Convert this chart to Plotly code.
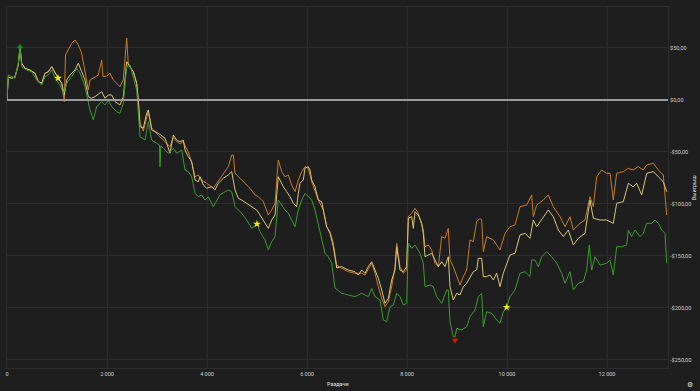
import plotly.graph_objects as go

# ---------------- data (hands, winnings in $) ----------------
hands_orange = [0, 26, 94, 160, 226, 260, 294, 360, 460, 560, 626, 694, 760, 826, 894, 960, 1026, 1094, 1146,
                1170, 1226, 1294, 1360, 1426, 1494, 1560, 1626, 1660, 1726, 1826, 1894, 1920, 1994, 2060, 2126,
                2194, 2260, 2326, 2394, 2426, 2460, 2526, 2594, 2626, 2660, 2726, 2794, 2826, 2894, 3026, 3160,
                3260, 3326, 3394, 3460, 3526, 3560, 3626, 3694,
                3760, 3826, 3894, 3994, 4126, 4194, 4326, 4426, 4494, 4526, 4560, 4626, 4726, 4860, 4960, 5026,
                5126, 5226, 5294, 5360, 5426, 5494, 5560, 5626, 5694, 5760, 5826, 5894, 5960, 6026, 6094, 6160,
                6226, 6326, 6394, 6460, 6526, 6594, 6694, 6826, 6960, 7094, 7160, 7294, 7360, 7426, 7494, 7560,
                7626, 7694, 7760, 7794, 7860, 7926, 7994, 8026, 8094, 8160, 8226, 8326, 8360, 8426, 8494, 8560,
                8626, 8694, 8760, 8826, 8860, 8926, 8994, 9060, 9126, 9194, 9260, 9326, 9394, 9460, 9494, 9526,
                9594, 9660, 9726, 9794, 9860, 9960, 10060, 10160, 10260, 10394, 10494, 10526, 10594, 10726,
                10826, 10926, 11060, 11160, 11260, 11326, 11460, 11560, 11660, 11726, 11794, 11894, 11994,
                12060, 12126, 12194, 12326, 12426, 12526, 12626, 12726, 12794, 12926, 13026, 13126, 13194]
win_orange = [0, 22.1, 20.9, 22.4, 33.7, 51.3, 35.3, 30.5, 28.8, 25.7, 17.6, 16.1, 25.7, 27.2, 32.0, 25.7, 20.9,
              16.1, -1.6,
              43.3, 48.1, 54.5, 57.7, 52.9, 44.9, 28.8, 9.6, 19.2, 21.2, 24.0, 38.5, 22.4, 23.1, 25.7, 19.2,
              15.4, 12.8, 19.2, 59.6, 33.7, 32.0, 27.2, 16.1, 0.0, -22.0, -30.0, -15.0, -11.0, -27.0, -34.0, -40.0,
              -45.0, -36.0, -40.0, -42.0, -40.0, -44.0, -50.0, -60.0,
              -73.8, -72.1, -76.9, -80.1, -84.9, -80.1, -70.5, -64.1, -52.9, -52.9, -70.5, -73.8, -78.6, -84.9,
              -91.3, -93.0, -97.8, -110.6, -105.8, -99.3, -57.7, -68.9, -73.8, -72.1, -81.7, -88.2, -76.9, -68.9,
              -64.1, -65.7, -78.6, -86.5, -96.2, -105.8, -121.8, -126.6, -137.8, -158.7, -161.9, -165.1, -166.6,
              -166.6, -168.3, -157.0, -166.6, -179.5, -190.7, -198.7, -194.0, -179.5, -160.3, -137.8, -160.3,
              -166.6, -163.5, -112.2, -108.9, -104.1, -108.9, -125.0, -141.1, -139.4, -144.2, -157.0, -160.3,
              -131.4, -133.0, -123.4, -153.8, -160.3, -169.9, -177.9, -169.9, -163.5, -134.6, -136.2, -117.0,
              -113.7, -115.4, -145.8, -131.4, -133.0, -134.6, -139.4, -144.2, -128.2, -121.8, -120.2, -102.6,
              -101.0, -91.3, -112.2, -101.0, -96.2, -91.3, -102.6, -112.2, -121.8, -112.2, -125.0, -118.6,
              -115.4, -93.0, -102.6, -73.8, -67.3, -70.5, -70.5, -96.2, -70.5, -68.9, -65.7, -67.3, -64.1,
              -67.3, -62.5, -60.9, -67.3, -72.1, -110.6]

hands_yellow = [0, 26, 94, 160, 226, 260, 294, 360, 460, 560, 626, 694, 760, 826, 894, 960, 1026, 1094, 1146,
                1194, 1260, 1360, 1426, 1494, 1560, 1626, 1694, 1760, 1894, 1960, 2026, 2094, 2160, 2260, 2326,
                2394, 2460, 2526, 2594, 2626, 2660, 2726, 2794, 2826, 2894, 3026, 3160, 3260, 3326, 3394, 3460,
                3526, 3560, 3626, 3694, 3760, 3826, 3860, 3926, 3994, 4094, 4160, 4226, 4326, 4426, 4494, 4560,
                4626, 4694, 4794, 4894, 4994, 5060, 5160, 5226, 5294, 5360, 5426, 5526, 5594, 5660, 5726, 5794,
                5826, 5860, 5926, 5960, 6026, 6060, 6094, 6160, 6226, 6294, 6326, 6394, 6460, 6526, 6594, 6694,
                6826, 6960, 7026, 7094, 7160, 7226, 7294, 7360, 7426, 7494, 7560, 7626, 7694, 7760, 7794, 7860,
                7926, 7994, 8026, 8094, 8126, 8160, 8226, 8294, 8326, 8360, 8426, 8494, 8560, 8626, 8694, 8760,
                8826, 8860, 8926, 8994, 9060, 9126, 9194, 9260, 9326, 9394, 9426, 9494, 9526, 9594, 9660, 9726,
                9794, 9860, 9926, 10060, 10160, 10260, 10360, 10460, 10526, 10594, 10694, 10826, 10926, 11026,
                11126, 11226, 11326, 11426, 11560, 11660, 11726, 11860, 11994, 12126, 12194, 12326, 12426,
                12526, 12594, 12694, 12794, 12926, 13026, 13126, 13194]
win_yellow = [0, 22.1, 20.9, 22.4, 33.7, 51.3, 35.3, 30.5, 28.8, 25.7, 17.6, 16.1, 25.7, 27.2, 32.0, 25.7, 20.9,
              16.1, 4.8, 19.2, 24.0, 28.8, 35.3, 27.2, 19.2, 3.2, 1.6, 3.2, 8.0, 1.6, 4.8, 4.8, -1.6, -4.8, 3.2,
              36.8, 32.0, 27.2, 16.1, 0.0, -25.7, -27.2, -12.8, -9.6, -28.8, -32.0, -36.8, -51.2, -33.7, -38.5,
              -40.1, -38.5, -48.1, -54.5, -59.3, -76.9, -78.6, -73.8, -81.7, -84.9, -83.4, -86.5, -80.1, -75.3,
              -72.1, -68.9, -86.5, -94.5, -96.2, -99.3, -102.6, -105.8, -110.6, -118.6, -123.4, -115.4, -110.6,
              -73.8, -83.4, -88.2, -93.0, -99.3, -102.6, -89.7, -80.1, -76.9, -65.7, -64.1, -67.3, -76.9, -83.4,
              -96.2, -97.8, -105.8, -121.8, -128.2, -141.1, -161.5, -160.3, -163.5, -165.1, -168.3, -163.5,
              -166.6, -160.3, -155.5, -163.5, -171.4, -182.7, -195.5, -190.7, -173.1, -163.5, -141.1, -163.5,
              -165.1, -160.3, -113.7, -112.2, -123.4, -107.4, -110.6, -118.6, -128.2, -150.7, -149.0, -147.4,
              -153.8, -160.3, -155.5, -160.3, -150.7, -179.5, -192.3, -185.9, -187.5, -179.5, -176.2, -169.9,
              -165.1, -163.5, -152.2, -152.2, -169.9, -169.9, -168.3, -173.1, -166.6, -179.5, -166.6, -149.0,
              -147.4, -129.8, -128.2, -133.0, -115.4, -121.8, -115.4, -105.8, -112.2, -125.0, -131.4, -125.0,
              -139.4, -133.0, -128.2, -96.2, -113.7, -115.4, -115.4, -118.6, -99.3, -97.8, -80.1, -83.4, -80.1,
              -91.3, -70.5, -68.9, -73.8, -78.6, -88.2]

hands_green = [0, 26, 160, 226, 260, 294, 394, 494, 594, 694, 760, 826, 894, 960, 1060, 1126, 1194, 1294, 1394,
               1460, 1560, 1660, 1726, 1794, 1894, 1960, 2026, 2094, 2194, 2260, 2326, 2394, 2460, 2526, 2594,
               2660, 2760, 2826, 2894, 2994, 3050, 3060, 3076, 3126, 3226, 3294, 3326, 3394, 3494, 3560, 3626,
               3694, 3760, 3826, 3894, 3960, 4026, 4126, 4194, 4260, 4360, 4426, 4494, 4560, 4626, 4694, 4794,
               4894, 5000, 5060, 5160, 5226, 5294, 5360, 5426, 5494, 5560, 5626, 5694, 5760, 5826, 5894, 5960,
               6026, 6094, 6160, 6226, 6294, 6360, 6426, 6494, 6560, 6694, 6826, 6960, 7094, 7226, 7294, 7360,
               7460, 7526, 7594, 7660, 7726, 7794, 7860, 7926, 7994, 8026, 8094, 8160, 8260, 8326, 8360, 8460,
               8526, 8594, 8694, 8794, 8826, 8860, 8926, 8960, 8994, 9094, 9194, 9260, 9360, 9426, 9494, 9526,
               9594, 9694, 9794, 9860, 9926, 9994, 10060, 10160, 10260, 10360, 10460, 10494, 10560, 10626,
               10694, 10794, 10894, 10994, 11094, 11160, 11260, 11326, 11426, 11526, 11594, 11646, 11694,
               11760, 11860, 11994, 12060, 12126, 12194, 12294, 12394, 12426, 12494, 12560, 12660, 12726,
               12794, 12894, 12960, 13026, 13094, 13160, 13194]
win_green = [0, 24.0, 20.9, 35.3, 51.3, 32.0, 28.8, 27.2, 19.2, 14.4, 22.4, 24.0, 28.8, 20.9, 14.4, 6.4, 16.1,
             22.4, 30.5, 25.7, 12.8, -9.6, -19.2, -6.4, -1.6, -4.8, 0.0, -6.4, -11.2, -12.8, -3.2, 32.0, 33.7,
             22.4, 9.6, -35.3, -38.5, -20.9, -38.5, -41.6, -43.3, -64.1, -44.2, -46.4, -51.2, -48.1, -46.4,
             -51.2, -48.1, -67.3, -68.9, -73.8, -89.7, -93.0, -91.3, -96.2, -93.0, -102.6, -96.2, -91.3, -88.2,
             -86.5, -88.2, -102.6, -105.8, -108.9, -115.4, -123.4, -119.2, -126.6, -134.6, -144.2, -136.2,
             -131.4, -96.2, -101.0, -105.8, -108.9, -115.4, -121.8, -105.8, -96.2, -89.7, -93.0, -96.2, -105.8,
             -118.6, -134.6, -147.4, -150.7, -157.0, -180.8, -185.9, -187.5, -189.1, -185.9, -189.1, -181.1,
             -189.1, -192.3, -211.5, -213.2, -198.7, -197.1, -185.9, -189.1, -197.1, -195.5, -137.8, -142.6,
             -139.4, -147.4, -157.0, -179.5, -177.9, -179.5, -189.1, -195.5, -182.7, -182.7, -213.2, -227.6,
             -227.9, -219.5, -221.2, -218.0, -208.4, -201.9, -189.1, -185.9, -218.0, -203.6, -205.1, -211.5,
             -214.7, -203.6, -199.3, -189.1, -182.7, -166.6, -165.1, -169.9, -153.8, -153.8, -160.3, -150.7,
             -145.9, -150.7, -157.0, -166.6, -176.2, -165.1, -182.7, -176.2, -174.7, -163.5, -139.4, -163.5,
             -150.7, -158.7, -157.0, -153.8, -168.3, -141.1, -141.1, -139.4, -125.0, -131.4, -125.0, -131.4,
             -128.2, -118.6, -118.6, -115.4, -118.6, -125.0, -128.2, -157.0]

# milestone / extreme markers
star_hands = [1020, 5000, 9994]
star_win = [21.0, -119.2, -199.3]
max_hand = [260]
max_win = [51.3]
min_hand = [8960]
min_win = [-231.0]

x_tick_vals = [0, 2000, 4000, 6000, 8000, 10000, 12000]
x_tick_text = ["0", "2 000", "4 000", "6 000", "8 000", "10 000", "12 000"]
y_tick_vals = [50, 0, -50, -100, -150, -200, -250]
y_tick_text = ["$50,00", "$0,00", "-$50,00", "-$100,00", "-$150,00", "-$200,00", "-$250,00"]

# ---------------- figure ----------------
BG = "#1e1e1e"
GRID = "#2c2c2c"
FONT = "Roboto"
TXT = "#d0d0d0"

fig = go.Figure()
fig.add_trace(go.Scatter(x=hands_orange, y=win_orange, mode="lines",
                         line=dict(color="#c97a2c", width=1), hoverinfo="skip"))
fig.add_trace(go.Scatter(x=hands_yellow, y=win_yellow, mode="lines",
                         line=dict(color="#d6c57a", width=1), hoverinfo="skip"))
fig.add_trace(go.Scatter(x=hands_green, y=win_green, mode="lines",
                         line=dict(color="#3d9a2e", width=1), hoverinfo="skip"))
fig.add_trace(go.Scatter(x=star_hands, y=star_win, mode="markers",
                         marker=dict(symbol="star", size=6, color="#f5e81a"), hoverinfo="skip"))
fig.add_trace(go.Scatter(x=max_hand, y=max_win, mode="markers",
                         marker=dict(symbol="triangle-up", size=6, color="#138a13"), hoverinfo="skip"))
fig.add_trace(go.Scatter(x=min_hand, y=min_win, mode="markers",
                         marker=dict(symbol="triangle-down", size=6, color="#e01010"), hoverinfo="skip"))

fig.add_shape(type="line", xref="paper", x0=0, x1=1, yref="y", y0=0, y1=0,
              line=dict(color="#9a9a9a", width=2), layer="above")

fig.update_layout(
    width=700, height=391,
    margin=dict(l=7, r=32, t=7, b=23, autoexpand=False),
    paper_bgcolor=BG, plot_bgcolor=BG,
    showlegend=False,
    font=dict(family=FONT, size=5.5, color=TXT),
    xaxis=dict(range=[0, 13220], tickvals=x_tick_vals, ticktext=x_tick_text, automargin=False,
               showgrid=True, gridcolor=GRID, gridwidth=1, zeroline=False,
               showline=True, linecolor=GRID, mirror=True, ticks="", ticklen=0,
               tickfont=dict(size=5.5, color=TXT)),
    yaxis=dict(range=[-257.7, 89.4], side="right", tickvals=y_tick_vals, ticktext=y_tick_text,
               automargin=False,
               showgrid=True, gridcolor=GRID, gridwidth=1, zeroline=False,
               showline=True, linecolor=GRID, mirror=True, ticks="", ticklen=0,
               tickfont=dict(size=5.5, color=TXT)),
)

fig.add_annotation(text="Раздачи", xref="paper", yref="paper", x=0.5, y=-0.044,
                   xanchor="center", yanchor="middle", showarrow=False,
                   font=dict(family=FONT, size=5.5, color="#e8e8e8"))
fig.add_annotation(text="Выигрыш", xref="paper", yref="paper", x=1.039, y=0.5,
                   xanchor="center", yanchor="middle", showarrow=False, textangle=-90,
                   font=dict(family=FONT, size=5.5, color="#e8e8e8"))
fig.add_annotation(text="⚙", xref="paper", yref="paper", x=1.033, y=-0.047,
                   xanchor="center", yanchor="middle", showarrow=False,
                   font=dict(family="DejaVu Sans", size=7, color="#e0e0e0"))

fig.write_html("out.html", config={"displayModeBar": False},
               post_script="document.body.style.margin='0';document.body.style.background='#1e1e1e';")
